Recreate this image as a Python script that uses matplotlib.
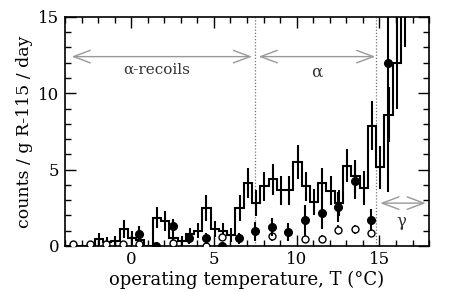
import numpy as np
import matplotlib
matplotlib.use("Agg")
import matplotlib.pyplot as plt
from matplotlib.ticker import MultipleLocator

plt.rcParams['font.family'] = ['DejaVu Serif']
plt.rcParams['mathtext.fontset'] = 'dejavuserif'

# ---- histogram (0.5 degC bins) ----
bin_edges = np.arange(-4.2, 16.81, 0.5)
hist_counts = [0, 0, 0, 0, 0.47, 0.25, 0.3, 1.1, 0.5, 0.4, 0.0,
               1.84, 1.62, 0.5, 0.3, 0.75, 1.0, 2.5, 1.1, 1.0, 0.7,
               2.5, 4.13, 2.82, 3.9, 4.35, 3.65, 3.65, 5.5, 3.9, 2.85,
               4.13, 3.6, 2.8, 5.26, 4.56, 3.8, 7.87, 5.15, 8.6, 12.0, 17.5]
hist_err = [0, 0, 0, 0, 0.4, 0.3, 0.35, 0.6, 0.45, 0.4, 0.0,
            0.7, 0.65, 0.4, 0.35, 0.45, 0.5, 0.85, 0.55, 0.5, 0.45,
            0.85, 1.0, 0.85, 0.95, 1.0, 0.95, 0.95, 1.1, 0.95, 0.85,
            1.0, 0.95, 0.85, 1.1, 1.05, 1.1, 1.6, 1.4, 1.8, 3.0, 4.5]

# ---- filled points ----
filled_T = [0.5, 1.5, 2.5, 3.5, 4.5, 5.5, 6.5, 7.5, 8.5, 9.5, 10.5, 11.5, 12.5, 13.5, 14.5, 15.5]
filled_val = [0.8, 0.0, 1.3, 0.5, 0.5, 0.0, 0.5, 0.95, 1.25, 0.9, 1.7, 2.15, 2.55, 4.24, 1.69, 12.0]
filled_err = [0.5, 0.0, 0.45, 0.35, 0.35, 0.0, 0.35, 0.6, 0.6, 0.6, 1.0, 1.05, 1.0, 1.2, 0.7, 8.5]

# ---- open points ----
open_T = [-3.5, -2.5, -1.5, -0.5, 0.5, 2.5, 4.5, 5.5, 8.5, 10.5, 11.5, 12.5, 13.5, 14.5]
open_val = [0.15, 0.1, 0.1, 0.1, 0.15, 0.2, 0.0, 0.55, 0.65, 0.44, 0.44, 1.07, 1.08, 0.86]
open_err = [0, 0, 0, 0, 0, 0, 0, 0.25, 0.3, 0.25, 0.25, 0.3, 0.3, 0.3]

# ---- region markers ----
region_lines = [7.5, 14.8]
regions = [("α-recoils", -3.6, 7.3, 12.4, 1.55, 11.55, 11),
           ("α", 7.7, 14.75, 12.4, 11.2, 11.4, 12),
           ("γ", 15.05, 17.8, 2.8, 16.3, 1.6, 12)]

fig = plt.figure(figsize=(4.71, 2.92), dpi=100)
ax = fig.add_axes([0.138, 0.158, 0.773, 0.784])

ax.stairs(hist_counts, bin_edges, baseline=None, color='black', lw=1.5, zorder=3)
centers = 0.5 * (bin_edges[:-1] + bin_edges[1:])
ax.errorbar(centers, hist_counts, yerr=hist_err, fmt='none', ecolor='black',
            elinewidth=1.5, capsize=0, zorder=3)

ax.errorbar(filled_T, filled_val, yerr=filled_err, fmt='o', color='black',
            ms=5.5, elinewidth=1.5, capsize=0, zorder=5)
ax.errorbar(open_T, open_val, yerr=open_err, fmt='o', color='black', mfc='white',
            mec='black', mew=1.0, ms=5, elinewidth=1.2, capsize=0, zorder=4)

for xv in region_lines:
    ax.axvline(xv, color='0.45', ls=(0, (1, 1.5)), lw=0.9, zorder=2)

for label, x0, x1, ya, xt, yt, fs in regions:
    ax.annotate('', xy=(x1, ya), xytext=(x0, ya),
                arrowprops=dict(arrowstyle='<->,head_length=1.2,head_width=0.45',
                                color='0.6', lw=1.0, shrinkA=0, shrinkB=0))
    ax.text(xt, yt, label, ha='center', va='center', fontsize=fs, color='0.2')

ax.set_xlim(-4, 18)
ax.set_ylim(0, 15)
ax.xaxis.set_major_locator(MultipleLocator(5))
ax.xaxis.set_minor_locator(MultipleLocator(1))
ax.yaxis.set_major_locator(MultipleLocator(5))
ax.yaxis.set_minor_locator(MultipleLocator(1))
ax.tick_params(which='both', direction='in', top=True, right=True, width=1.0,
               labelsize=12, pad=4)
ax.tick_params(which='major', length=8)
ax.tick_params(which='minor', length=4.5)
for s in ax.spines.values():
    s.set_linewidth(1.2)

ax.set_xlabel('operating temperature, T (°C)', fontsize=13, labelpad=2)
ax.set_ylabel('counts / g R-115 / day', fontsize=12.5, labelpad=4)

fig.savefig('out.png', dpi=100)
